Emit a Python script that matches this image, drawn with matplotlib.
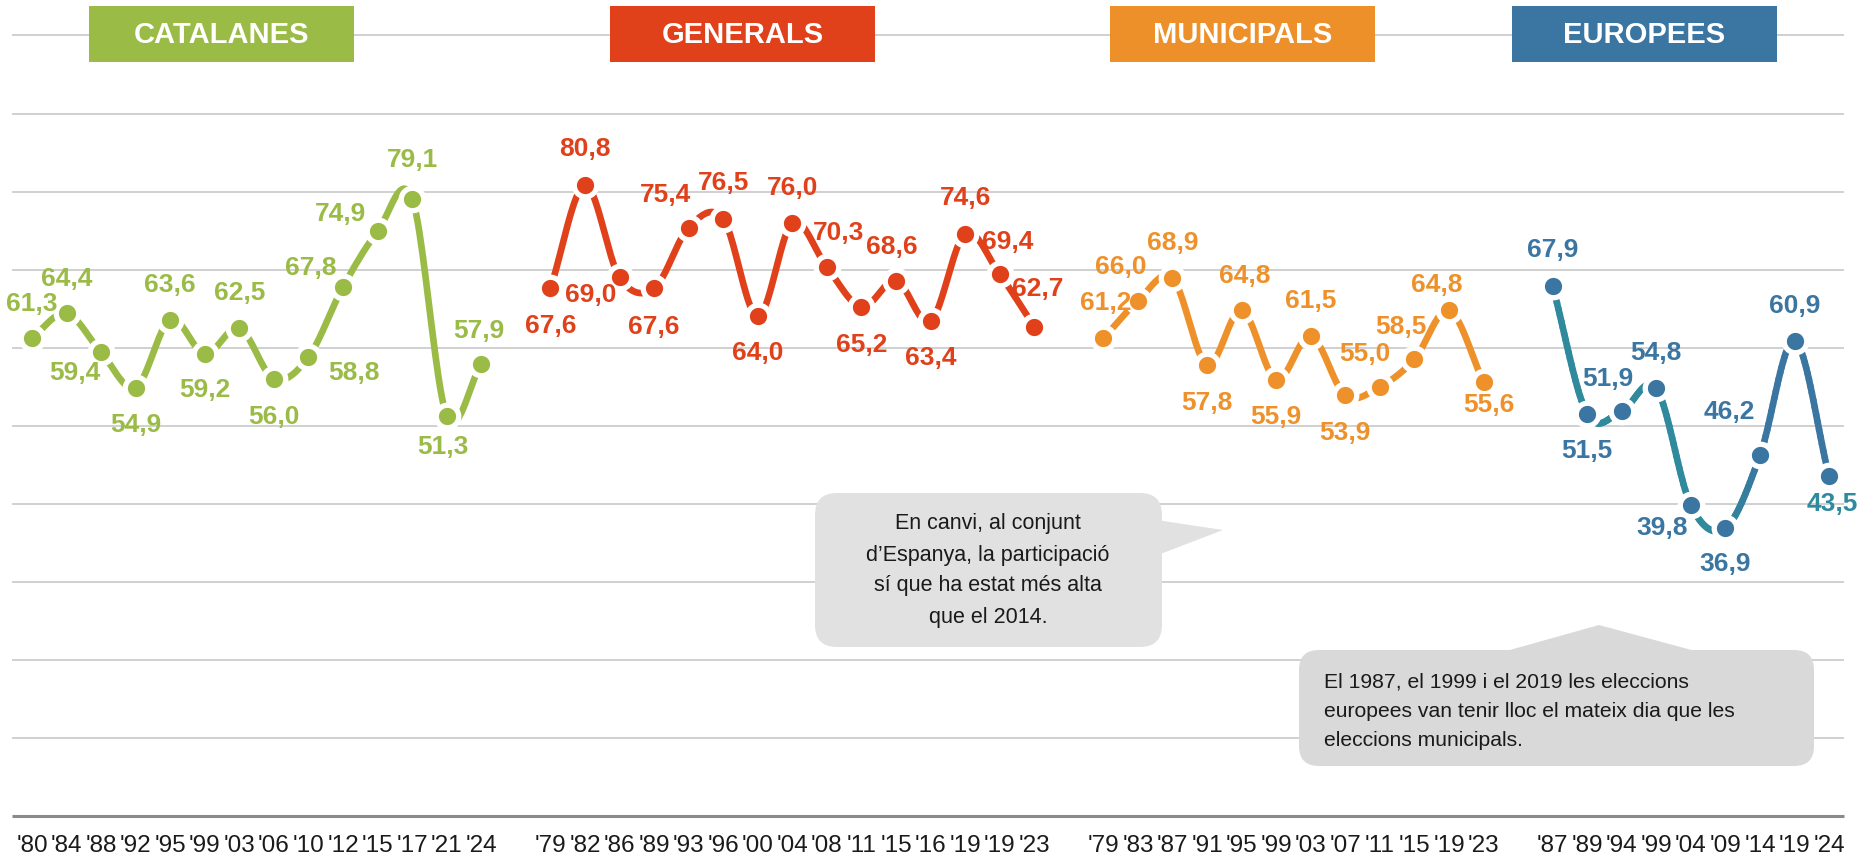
"""
Participació electoral a Catalunya per tipus d'elecció.

Run: python plot.py
"""

import numpy as np
import matplotlib
matplotlib.use("Agg")
import matplotlib.pyplot as plt
from matplotlib import font_manager, transforms
from matplotlib.collections import LineCollection
from matplotlib.colors import to_rgb
from matplotlib.patches import FancyBboxPatch, Polygon, Rectangle

FIG_PATH = "out.png"
W, H = 1857, 858

# --- data -------------------------------------------------------------
cat_years = ["'80", "'84", "'88", "'92", "'95", "'99", "'03", "'06", "'10",
             "'12", "'15", "'17", "'21", "'24"]
cat_vals = [61.3, 64.4, 59.4, 54.9, 63.6, 59.2, 62.5, 56.0, 58.8,
            67.8, 74.9, 79.1, 51.3, 57.9]

gen_years = ["'79", "'82", "'86", "'89", "'93", "'96", "'00", "'04", "'08",
             "'11", "'15", "'16", "'19", "'19", "'23"]
gen_vals = [67.6, 80.8, 69.0, 67.6, 75.4, 76.5, 64.0, 76.0, 70.3,
            65.2, 68.6, 63.4, 74.6, 69.4, 62.7]

mun_years = ["'79", "'83", "'87", "'91", "'95", "'99", "'03", "'07", "'11",
             "'15", "'19", "'23"]
mun_vals = [61.2, 66.0, 68.9, 57.8, 64.8, 55.9, 61.5, 53.9, 55.0,
            58.5, 64.8, 55.6]

eur_years = ["'87", "'89", "'94", "'99", "'04", "'09", "'14", "'19", "'24"]
eur_vals = [67.9, 51.5, 51.9, 54.8, 39.8, 36.9, 46.2, 60.9, 43.5]

group_names = ["CATALANES", "GENERALS", "MUNICIPALS", "EUROPEES"]

note_spain = ["En canvi, al conjunt", "d\u2019Espanya, la participació",
              "sí que ha estat més alta", "que el 2014."]
note_europe = ["El 1987, el 1999 i el 2019 les eleccions",
               "europees van tenir lloc el mateix dia que les",
               "eleccions municipals."]

# --- style / layout -----------------------------------------------------
GREEN = "#9BBB47"
RED = "#E0411A"
ORANGE = "#EE912A"
BLUE = "#3A76A1"
TEAL = "#2E8A9C"

# label offsets in pixels (dx, dy), dy positive = down
cat_off = [(0, -34), (0, -34), (-26, 21), (0, 37), (0, -35), (0, 36), (0, -35),
           (0, 38), (45, 16), (-32, -19), (-37, -17), (0, -39), (-4, 31),
           (-2, -33)]
gen_off = [(0, 38), (0, -36), (-29, 18), (0, 39), (-23, -33), (0, -36), (0, 37),
           (0, -35), (12, -34), (0, 38), (-4, -34), (0, 37), (0, -36),
           (8, -32), (3, -38)]
mun_off = [(2, -35), (-17, -34), (0, -35), (0, 38), (3, -34), (0, 37), (0, -35),
           (0, 38), (-15, -33), (-13, -32), (-12, -25), (5, 23)]
eur_off = [(0, -36), (0, 37), (-14, -32), (0, -35), (-29, 23), (0, 36),
           (-31, -43), (0, -35), (3, 28)]

# pixel calibration of the plot area
X0_PX, DX_PX = 32.0, 34.56     # pixel of first category, pixels per slot
Y0_PX, DY_PX = 816.0, 7.805    # pixel of value 0, pixels per unit


def pick_font(names):
    installed = {f.name for f in font_manager.fontManager.ttflist}
    return [n for n in names if n in installed] + ["DejaVu Sans"]


SANS = pick_font(["Liberation Sans", "Arial"])
NARROW = pick_font(["Liberation Sans Narrow", "Liberation Sans"])


def smooth(x, y, n=24):
    """Catmull-Rom curve through the points (like Excel's smoothed line)."""
    pts = np.column_stack([x, y]).astype(float)
    p = np.vstack([2 * pts[0] - pts[1], pts, 2 * pts[-1] - pts[-2]])
    t = np.linspace(0, 1, n, endpoint=False)[:, None]
    out = []
    for i in range(1, len(p) - 2):
        p0, p1, p2, p3 = p[i - 1], p[i], p[i + 1], p[i + 2]
        out.append(0.5 * (2 * p1 + (-p0 + p2) * t
                          + (2 * p0 - 5 * p1 + 4 * p2 - p3) * t ** 2
                          + (-p0 + 3 * p1 - 3 * p2 + p3) * t ** 3))
    out.append(pts[-1:])
    return np.vstack(out)


def fmt(v):
    return f"{v:.1f}".replace(".", ",")


def main() -> None:
    fig = plt.figure(figsize=(W / 100, H / 100), dpi=100)
    ax = fig.add_axes([0, 0, 1, 1])
    ax.axis("off")
    ax.set_xlim(-X0_PX / DX_PX, (W - X0_PX) / DX_PX)
    ax.set_ylim(-(H - Y0_PX) / DY_PX, Y0_PX / DY_PX)

    # pixel transform (origin top-left) for annotations
    pix = transforms.Affine2D().scale(1 / W, -1 / H).translate(0, 1) + fig.transFigure

    gx0, gx1 = (12 - X0_PX) / DX_PX, (1844 - X0_PX) / DX_PX
    ax.hlines(np.arange(10, 101, 10), gx0, gx1, color="#CDCDCD", lw=1.3, zorder=0)
    ax.hlines(0, gx0, gx1, color="#8A8A8A", lw=2.2, zorder=0)

    series = [
        (cat_years, cat_vals, GREEN, cat_off),
        (gen_years, gen_vals, RED, gen_off),
        (mun_years, mun_vals, ORANGE, mun_off),
        (eur_years, eur_vals, BLUE, eur_off),
    ]

    start = 0
    for k, (years, vals, color, offs) in enumerate(series):
        x = np.arange(start, start + len(vals))
        curve = smooth(x, vals)
        if k == 3:
            # europees: teal to blue gradient along the line
            segs = np.stack([curve[:-1], curve[1:]], axis=1)
            mid = segs[:, :, 0].mean(axis=1)
            f = np.clip((mid - (start + 5)) / 1.0, 0, 1)[:, None]
            cols = (1 - f) * np.array(to_rgb(TEAL)) + f * np.array(to_rgb(BLUE))
            ax.add_collection(LineCollection(segs, colors=cols, lw=4.8,
                                             capstyle="round", zorder=2))
        else:
            ax.plot(curve[:, 0], curve[:, 1], color=color, lw=4.8,
                    solid_capstyle="round", zorder=2)
        ax.plot(x, vals, "o", ms=16.2, mfc=color, mec="white", mew=3.8, zorder=3)

        for i, (xi, v) in enumerate(zip(x, vals)):
            dx, dy = offs[i]
            lc = TEAL if (k == 3 and i == len(vals) - 1) else color
            ax.annotate(fmt(v), (xi, v), xytext=(dx * 0.72, -dy * 0.72),
                        textcoords="offset points", ha="center", va="center",
                        fontsize=19, fontweight="bold", color=lc,
                        family=SANS, zorder=4)

        for xi, lab in zip(x, years):
            ax.text(xi, -3.9, lab, ha="center", va="center", fontsize=17.5,
                    family=NARROW, color="#1A1A1A")
        start += len(vals) + 1

    # group title boxes
    box_left = [89, 610, 1110, 1512]
    box_cols = [GREEN, "#E0401A", "#EE9029", BLUE]
    for name, left, col in zip(group_names, box_left, box_cols):
        fig.patches.append(Rectangle((left, 6), 265, 56, transform=pix,
                                     facecolor=col, edgecolor="none", zorder=5))
        fig.text(left + 132.5, 35, name, transform=pix, ha="center", va="center",
                 fontsize=21, fontweight="bold", color="white", family=SANS,
                 zorder=6)

    # callout: Spain
    c1 = "#E0E1E0"
    fig.patches.append(FancyBboxPatch((815, 493), 347, 154,
                                      boxstyle="round,pad=0,rounding_size=22",
                                      transform=pix, facecolor=c1,
                                      edgecolor="none", zorder=5))
    fig.patches.append(Polygon([(1150, 519), (1223, 530), (1150, 558)],
                               closed=True, transform=pix, facecolor=c1,
                               edgecolor="none", zorder=5))
    for j, line in enumerate(note_spain):
        fig.text(988, 524 + 31 * j, line, transform=pix, ha="center",
                 va="center", fontsize=15.5, color="#1A1A1A", family=SANS, zorder=6)

    # callout: European elections
    c2 = "#D9D9D9"
    fig.patches.append(FancyBboxPatch((1299, 650), 515, 116,
                                      boxstyle="round,pad=0,rounding_size=20",
                                      transform=pix, facecolor=c2,
                                      edgecolor="none", zorder=5))
    fig.patches.append(Polygon([(1492, 655), (1599, 625), (1710, 655)],
                               closed=True, transform=pix, facecolor=c2,
                               edgecolor="none", zorder=5))
    for j, line in enumerate(note_europe):
        fig.text(1324, 682 + 29.5 * j, line, transform=pix, ha="left",
                 va="center", fontsize=15.2, color="#1A1A1A", family=SANS, zorder=6)

    fig.savefig(FIG_PATH, dpi=100)
    plt.close(fig)
    print(f"Saved figure to {FIG_PATH}")


if __name__ == "__main__":
    main()
